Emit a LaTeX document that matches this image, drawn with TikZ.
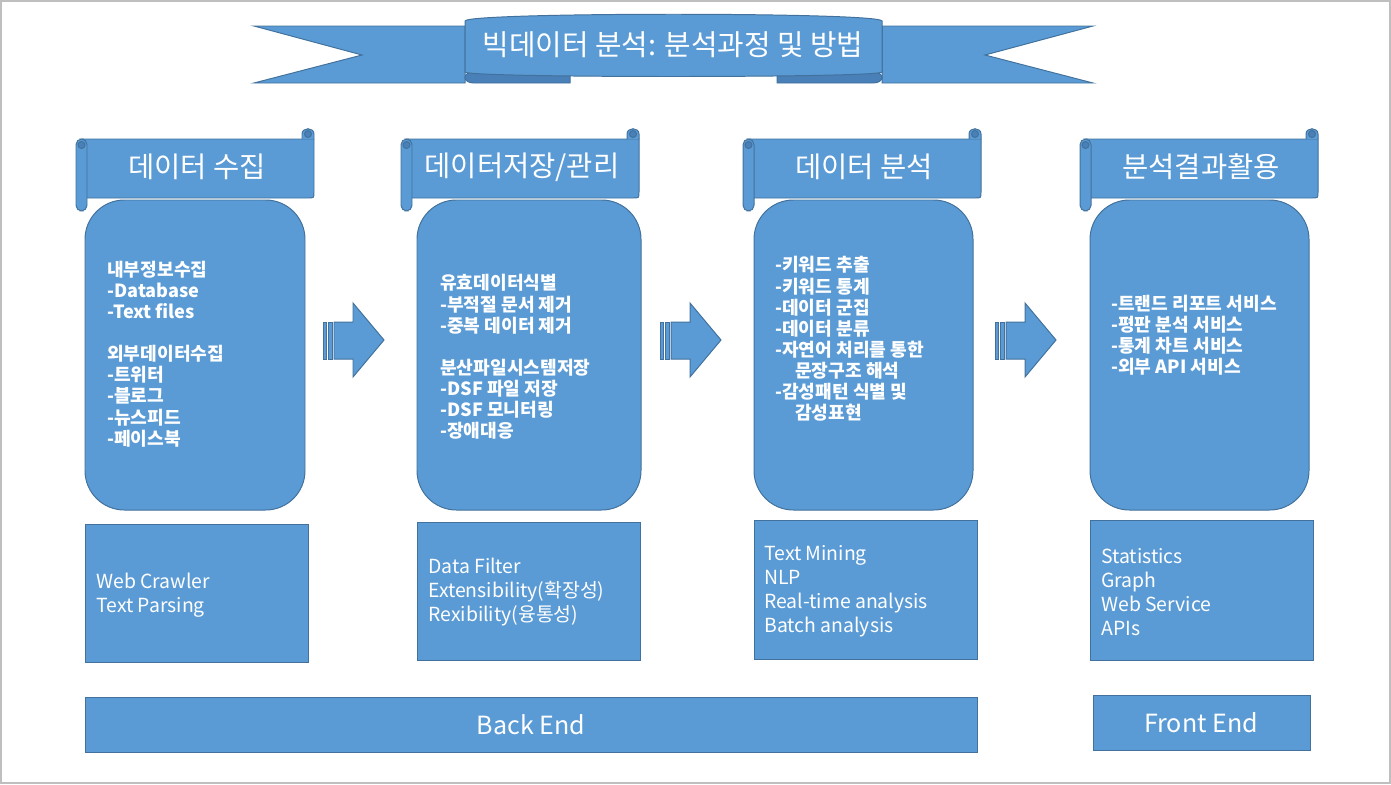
\documentclass[tikz,border=0pt]{standalone}
\usepackage{fontspec}
\setmainfont{Noto Sans CJK KR}
\usepackage{tikz}
\usepackage{xcolor}

\definecolor{boxblue}{HTML}{5B9BD5}
\definecolor{boxline}{HTML}{41719C}
\definecolor{folddark}{HTML}{4A80B8}

\tikzset{
  box/.style={draw=boxline,fill=boxblue,line width=0.7pt},
  titletext/.style={text=white,font=\fontsize{20.5}{24}\selectfont,inner sep=0pt},
  headtext/.style={text=white,font=\fontsize{20.3}{24}\selectfont,inner sep=0pt},
  listtext/.style={text=white,font=\bfseries\fontsize{12.9}{15}\selectfont,align=left,anchor=west,inner sep=0pt},
  tooltext/.style={text=white,font=\fontsize{13.8}{17}\selectfont,align=left,anchor=west,inner sep=0pt},
  bartext/.style={text=white,font=\fontsize{17.8}{21}\selectfont,inner sep=0pt}
}

% scroll header: left x, node name, text
\newcommand\scrollhead[3]{%
  \begin{scope}[shift={(#1,0)}]
    \draw[box] (5,139) -- (238,139) -- (238,192) .. controls (238,198) .. (232,198) -- (5,198) -- cycle;
    \draw[box] (226,139) -- (226,134) .. controls (226,127) and (238,127) .. (238,134) -- (238,139);
    \draw[box,fill=folddark] (232,134) circle[radius=3.5];
    \draw[box,rounded corners=4pt] (0,139) rectangle (11,211);
    \draw[box,fill=folddark] (5.5,145) circle[radius=3.5];
    \node[headtext] (#2) at (121,167) {#3};
  \end{scope}}

\begin{document}
\begin{tikzpicture}[x=0.025cm,y=-0.025cm]
  \useasboundingbox (0,0) rectangle (1391,784);
  \draw[black!25,line width=0.8pt] (1,1) rectangle (1390,783);

  % banner
  \draw[box] (254,26) -- (465,26) -- (465,83) -- (254,83) -- (362,55) -- cycle;
  \draw[box] (1093,26) -- (882,26) -- (882,83) -- (1093,83) -- (985,55) -- cycle;
  \draw[box,fill=folddark] (570,70) -- (570,83) -- (474,83) .. controls (462,83) and (462,72) .. (474,72) -- cycle;
  \draw[box,fill=folddark] (777,70) -- (777,83) -- (873,83) .. controls (885,83) and (885,72) .. (873,72) -- cycle;
  \draw[box] (465,72) -- (465,21) .. controls (466,12) and (881,12) .. (882,21) -- (882,72) .. controls (881,78) and (466,78) .. (465,72) -- cycle;
  \node[titletext] (title) at (673,45) {빅데이터 분석: 분석과정 및 방법};

  % column headers
  \scrollhead{76}{head1}{데이터 수집}
  \scrollhead{401}{head2}{데이터저장/관리}
  \scrollhead{743}{head3}{데이터 분석}
  \scrollhead{1080}{head4}{분석결과활용}

  % rounded boxes
  \draw[box,rounded corners=28pt] (85,200) rectangle (305,510);
  \draw[box,rounded corners=28pt] (417,200) rectangle (641,510);
  \draw[box,rounded corners=28pt] (754,200) rectangle (973,510);
  \draw[box,rounded corners=28pt] (1090,200) rectangle (1309,510);

  \node[listtext] (list1) at (107,354) {내부정보수집\\-Database\\-Text files\\[15pt]외부데이터수집\\-트위터\\-블로그\\-뉴스피드\\-페이스북};
  \node[listtext] (list2) at (440,357) {유효데이터식별\\-부적절 문서 제거\\-중복 데이터 제거\\[15pt]분산파일시스템저장\\-DSF 파일 저장\\-DSF 모니터링\\-장애대응};
  \node[listtext] (list3) at (775,339) {-키워드 추출\\-키워드 통계\\-데이터 군집\\-데이터 분류\\-자연어 처리를 통한\\\hspace*{1.1em}문장구조 해석\\-감성패턴 식별 및\\\hspace*{1.1em}감성표현};
  \node[listtext] (list4) at (1111,335) {-트랜드 리포트 서비스\\-평판 분석 서비스\\-통계 차트 서비스\\-외부 API 서비스};

  % striped arrows
  \foreach \dx in {0,337,672}{
    \begin{scope}[shift={(\dx,0)}]
      \draw[box] (323,322) rectangle (326,359);
      \draw[box] (328,322) rectangle (332,359);
      \draw[box] (334,322) -- (353,322) -- (353,303) -- (384,340) -- (353,377) -- (353,359) -- (334,359) -- cycle;
    \end{scope}
  }

  % tool boxes
  \draw[box] (85,524) rectangle (308,662);
  \draw[box] (417,522) rectangle (640,660);
  \draw[box] (754,520) rectangle (977,659);
  \draw[box] (1090,520) rectangle (1313,660);

  \node[tooltext] (tool1) at (96,595) {Web Crawler\\Text Parsing};
  \node[tooltext] (tool2) at (428,592) {Data Filter\\Extensibility(확장성)\\Rexibility(융통성)};
  \node[tooltext] (tool3) at (764,591) {Text Mining\\NLP\\Real-time analysis\\Batch analysis};
  \node[tooltext] (tool4) at (1101,592) {Statistics\\Graph\\Web Service\\APIs};

  % end bars
  \draw[box] (85,697) rectangle (977,752);
  \draw[box] (1093,695) rectangle (1310,750);
  \node[bartext] (backend) at (531,725) {Back End};
  \node[bartext] (frontend) at (1201,723) {Front End};
\end{tikzpicture}
\end{document}
